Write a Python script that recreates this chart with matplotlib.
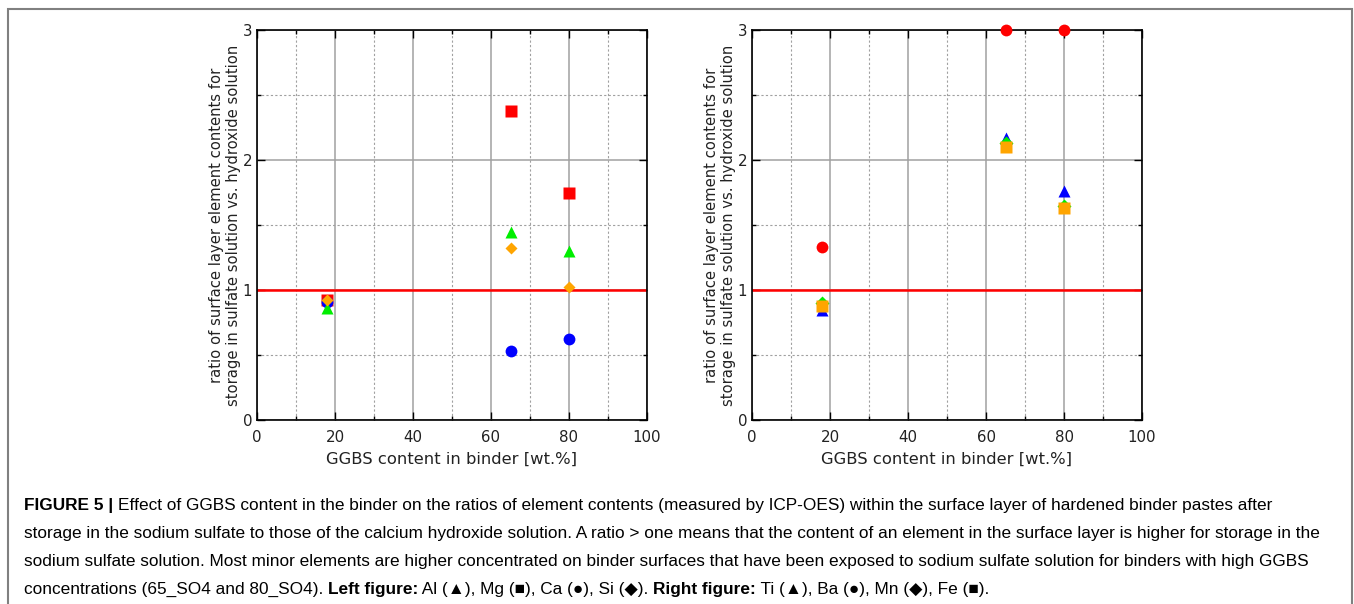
import matplotlib
matplotlib.use("Agg")
import matplotlib.pyplot as plt
import matplotlib.patches as mpatches
import matplotlib.transforms as mtransforms
from matplotlib.ticker import MultipleLocator

# GGBS content of the binders
ggbs = [18, 65, 80]

# left figure
al = [0.86, 1.45, 1.30]
mg = [0.92, 2.38, 1.75]
ca = [0.91, 0.53, 0.62]
si = [0.92, 1.32, 1.02]

# right figure
ti = [0.85, 2.17, 1.76]
ba = [1.33, 3.0, 3.0]
mn = [0.90, 2.13, 1.65]
fe = [0.88, 2.10, 1.63]

ylabel = "ratio of surface layer element contents for\nstorage in sulfate solution vs. hydroxide solution"
xlabel = "GGBS content in binder [wt.%]"

W, H = 1354, 604
fig = plt.figure(figsize=(W / 100, H / 100), dpi=100)


def setup(ax):
    ax.set_xlim(0, 100)
    ax.set_ylim(0, 3)
    ax.xaxis.set_major_locator(MultipleLocator(20))
    ax.xaxis.set_minor_locator(MultipleLocator(10))
    ax.yaxis.set_major_locator(MultipleLocator(1))
    ax.yaxis.set_minor_locator(MultipleLocator(0.5))
    ax.grid(which="major", color="#a0a0a0", lw=1.1, ls="-")
    ax.grid(which="minor", color="#a0a0a0", lw=0.8, ls=(0, (2, 2)))
    ax.set_axisbelow(True)
    ax.tick_params(which="both", direction="in", top=True, right=True,
                   labelsize=10.8, colors="black", labelcolor="#222222")
    ax.tick_params(which="major", length=6, width=1)
    ax.tick_params(which="minor", length=3, width=1)
    ax.tick_params(axis="x", pad=7)
    for sp in ax.spines.values():
        sp.set_linewidth(1.2)
    ax.axhline(1, color="red", lw=1.8, zorder=2)
    ax.set_xlabel(xlabel, fontsize=11.8, labelpad=5, color="#222222")
    ax.set_ylabel(ylabel, fontsize=10.6, labelpad=1, linespacing=1.15, color="#222222")


ax1 = fig.add_axes([257 / W, 184 / H, 390 / W, 390 / H])
setup(ax1)
kw = dict(ls="none", clip_on=False, zorder=3, mec="none")
ax1.plot(ggbs, mg, marker="s", color="red", ms=8, **kw)
ax1.plot(ggbs, ca, marker="o", color="blue", ms=8.5, **kw)
ax1.plot(ggbs, al, marker="^", color="#00ee00", ms=9, **kw)
ax1.plot(ggbs, si, marker="D", color="orange", ms=6, **kw)

ax2 = fig.add_axes([752 / W, 184 / H, 390 / W, 390 / H])
setup(ax2)
ax2.plot(ggbs, ba, marker="o", color="red", ms=8.5, **kw)
ax2.plot(ggbs, ti, marker="^", color="blue", ms=9, **kw)
ax2.plot(ggbs, mn, marker="D", color="#00ee00", ms=7, **kw)
ax2.plot(ggbs, fe, marker="s", color="orange", ms=8, **kw)

# frame around figure + caption
frame = mpatches.Rectangle((8, -20), 1344, 615, transform=mtransforms.IdentityTransform(),
                           fill=False, ec="#808080", lw=1.5)
fig.patches.append(frame)

cap_font = ["Liberation Sans", "DejaVu Sans"]
caption = [
    [("FIGURE 5 | ", "bold"),
     ("Effect of GGBS content in the binder on the ratios of element contents (measured by ICP-OES) "
      "within the surface layer of hardened binder pastes after", "normal")],
    [("storage in the sodium sulfate to those of the calcium hydroxide solution. A ratio > one means that "
      "the content of an element in the surface layer is higher for storage in the", "normal")],
    [("sodium sulfate solution. Most minor elements are higher concentrated on binder surfaces that have "
      "been exposed to sodium sulfate solution for binders with high GGBS", "normal")],
    [("concentrations (65_SO4 and 80_SO4). ", "normal"), ("Left figure:", "bold"),
     (" Al (\u25b2), Mg (\u25a0), Ca (\u25cf), Si (\u25c6). ", "normal"), ("Right figure:", "bold"),
     (" Ti (\u25b2), Ba (\u25cf), Mn (\u25c6), Fe (\u25a0).", "normal")],
]
baselines = [94, 66, 38, 10]

renderer = fig.canvas.get_renderer()
for runs, yb in zip(caption, baselines):
    x = 24
    for s, wt in runs:
        t = fig.text(x, yb, s, fontsize=12.42, fontweight=wt, family=cap_font,
                     va="baseline", ha="left", transform=mtransforms.IdentityTransform())
        x += t.get_window_extent(renderer).width

fig.savefig("out.png", dpi=100)
